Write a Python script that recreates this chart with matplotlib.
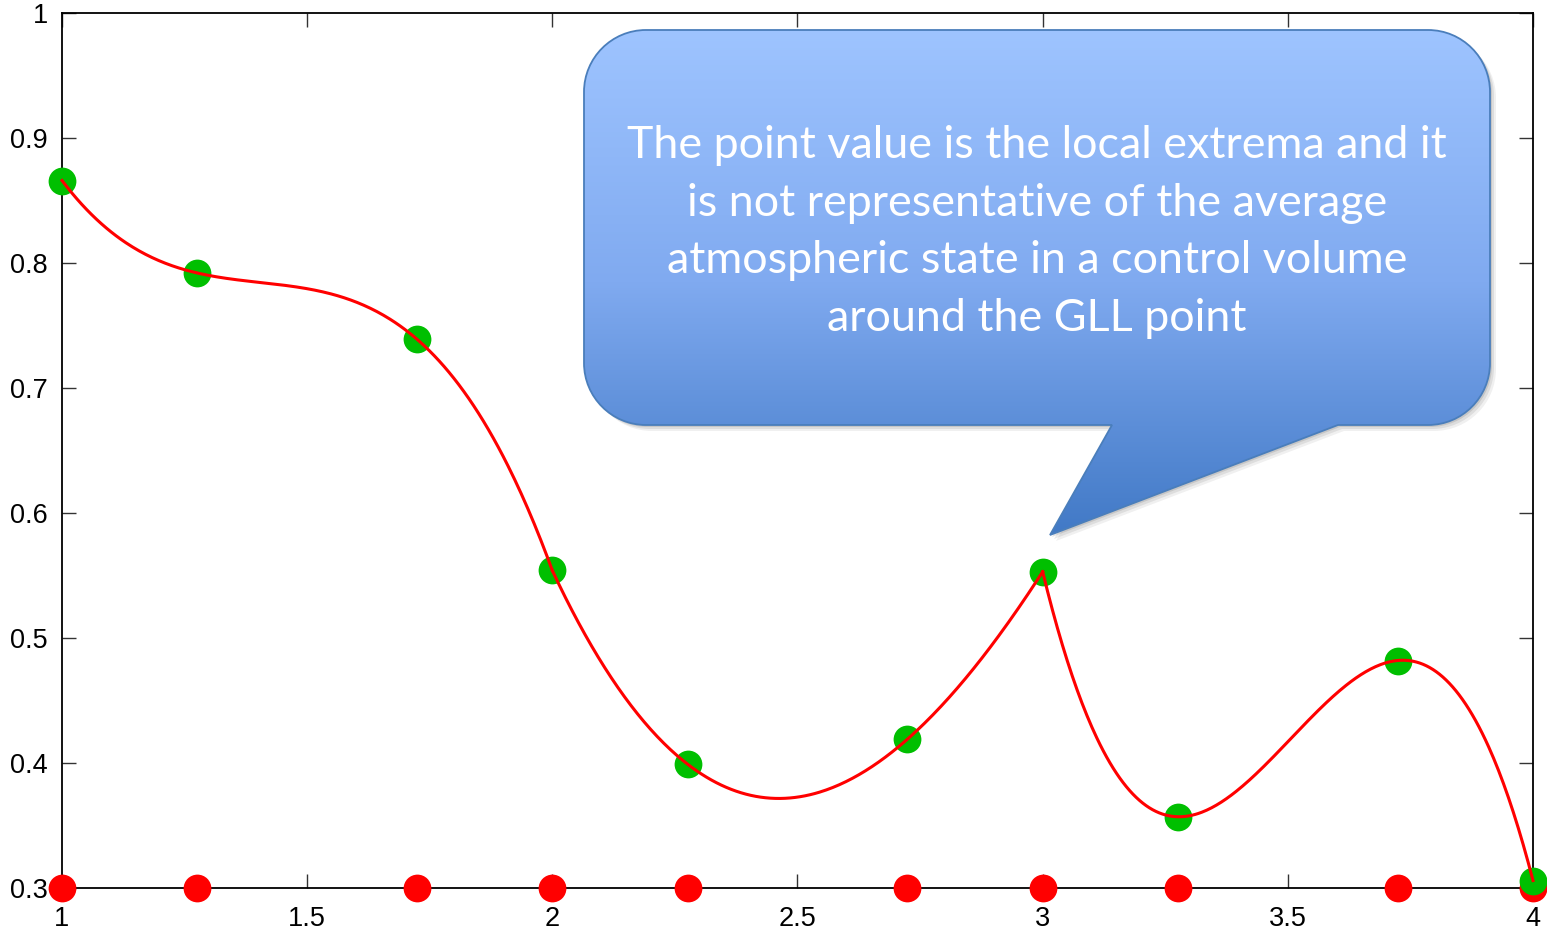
import numpy as np
import matplotlib.pyplot as plt
from matplotlib.path import Path
from matplotlib.patches import PathPatch
from matplotlib.colors import LinearSegmentedColormap

# GLL nodes (4 per element, 3 elements) and point values
x_nodes = [1.0, 1.276, 1.724, 2.0, 2.276, 2.724, 3.0, 3.276, 3.724, 4.0]
y_values = [0.866, 0.792, 0.739, 0.554, 0.399, 0.419, 0.553, 0.357, 0.482, 0.306]
elements = [(0, 4), (3, 7), (6, 10)]
base_level = 0.3

x_ticks = [1, 1.5, 2, 2.5, 3, 3.5, 4]
x_ticklabels = ['1', '1.5', '2', '2.5', '3', '3.5', '4']
y_ticks = [0.3, 0.4, 0.5, 0.6, 0.7, 0.8, 0.9, 1.0]
y_ticklabels = ['0.3', '0.4', '0.5', '0.6', '0.7', '0.8', '0.9', '1']

callout_text = ('The point value is the local extrema and it\n'
                'is not representative of the average\n'
                'atmospheric state in a control volume\n'
                'around the GLL point')

W, H = 1547, 936
fig = plt.figure(figsize=(W / 100, H / 100), dpi=100)
ax = fig.add_axes([62 / W, 48 / H, (1533 - 62) / W, (923 - 48) / H])

# cubic interpolant through the 4 nodes of each element
for i0, i1 in elements:
    xs = np.array(x_nodes[i0:i1])
    ys = np.array(y_values[i0:i1])
    c = np.polyfit(xs, ys, 3)
    xx = np.linspace(xs[0], xs[-1], 300)
    ax.plot(xx, np.polyval(c, xx), color='#ff0000', lw=2.2, zorder=6, clip_on=False)

ax.plot(x_nodes, [base_level] * len(x_nodes), 'o', color='#ff0000', ms=20,
        mec='none', zorder=4, clip_on=False)
ax.plot(x_nodes, y_values, 'o', color='#00bf00', ms=20, mec='none',
        zorder=5, clip_on=False)

ax.set_xlim(1, 4)
ax.set_ylim(0.3, 1.0)
ax.set_xticks(x_ticks)
ax.set_xticklabels(x_ticklabels)
ax.set_yticks(y_ticks)
ax.set_yticklabels(y_ticklabels)
ax.tick_params(direction='in', length=10, width=1, color='#333333',
               top=True, right=True, labelsize=19.5)
ax.tick_params(axis='x', pad=13)
ax.tick_params(axis='y', pad=10)
for lab in ax.get_xticklabels() + ax.get_yticklabels():
    lab.set_family('Liberation Sans')
for s in ax.spines.values():
    s.set_linewidth(1.3)

# callout drawn in pixel coords (y down) on an overlay axes
ov = fig.add_axes([0, 0, 1, 1])
ov.axis('off')

x0, y0, x1, y1, r = 584, 30, 1490, 425, 62
tail_r, tip, tail_l = (1338, 425), (1050, 535), (1112, 425)
k = 0.5523 * r
M, L, C, Z = Path.MOVETO, Path.LINETO, Path.CURVE4, Path.CLOSEPOLY
verts = [(x0 + r, y0), (x1 - r, y0),
         (x1 - r + k, y0), (x1, y0 + r - k), (x1, y0 + r),
         (x1, y1 - r),
         (x1, y1 - r + k), (x1 - r + k, y1), (x1 - r, y1),
         tail_r, tip, tail_l,
         (x0 + r, y1),
         (x0 + r - k, y1), (x0, y1 - r + k), (x0, y1 - r),
         (x0, y0 + r),
         (x0, y0 + r - k), (x0 + r - k, y0), (x0 + r, y0),
         (x0 + r, y0)]
codes = [M, L, C, C, C, L, C, C, C, L, L, L, L, C, C, C, L, C, C, C, Z]
path = Path(verts, codes)

# soft shadow
for off, a in [(2, 0.10), (4, 0.08), (6, 0.06)]:
    sh = Path(np.array(verts) + [off, off], codes)
    ov.add_patch(PathPatch(sh, fc='black', ec='none', alpha=a, zorder=9))

box = PathPatch(path, fc='none', ec='#4a7ebb', lw=1.3, zorder=11)
ov.add_patch(box)
cmap = LinearSegmentedColormap.from_list('cb', ['#9ec4ff', '#80aaf0', '#4179c6'])
grad = np.linspace(0, 1, 256)[:, None]
im = ov.imshow(grad, extent=[x0, x1, tip[1], y0], cmap=cmap, aspect='auto',
               zorder=10, interpolation='bilinear')
im.set_clip_path(box)

ov.text(1037, 232, callout_text, ha='center', va='center', ma='center',
        color='white', fontsize=32.3, family='Lato', linespacing=1.5, zorder=12)

ov.set_xlim(0, W)
ov.set_ylim(H, 0)

fig.savefig('out.png', dpi=100)
